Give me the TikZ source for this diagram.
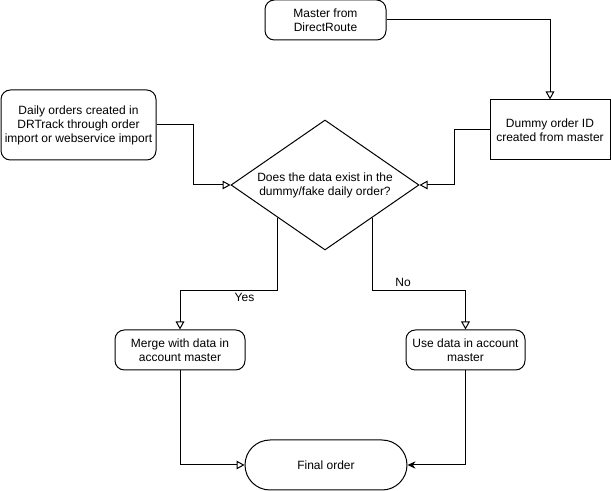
\documentclass[tikz,border=0pt]{standalone}
\usepackage{fontspec}
\setmainfont{Liberation Sans}
\usetikzlibrary{arrows.meta,shapes.geometric}

\begin{document}
\begin{tikzpicture}[
  x=0.75pt, y=-0.75pt,
  font=\fontsize{9}{10.5}\selectfont,
  line width=0.75pt,
  >={Triangle[open, length=6pt, width=6.5pt, fill=white]},
  box/.style={draw, rounded corners=7pt, align=center, inner sep=0pt},
  plainbox/.style={draw, align=center, inner sep=0pt},
  decision/.style={draw, diamond, aspect=1.45, align=center, inner sep=0pt},
  terminal/.style={draw, rounded corners=18.75pt, align=center, inner sep=0pt},
  flow/.style={->},
  lbl/.style={inner sep=2pt}
]
  \useasboundingbox (0,0) rectangle (611,491);

  \node[box, minimum width=90.75pt, minimum height=30pt] (master) at (325.5,20) {Master from\\DirectRoute};
  \node[plainbox, minimum width=90pt, minimum height=45pt] (dummy) at (550,130) {Dummy order ID\\created from master};
  \node[box, minimum width=116.25pt, minimum height=52.5pt] (daily) at (78.5,125) {Daily orders created in\\DRTrack through order\\import or webservice import};
  \node[decision, minimum width=141pt, minimum height=97.5pt] (dec) at (325,185) {Does the data exist in the\\dummy/fake daily order?};
  \node[box, minimum width=97.5pt, minimum height=30pt] (merge) at (180,350) {Merge with data in\\account master};
  \node[box, minimum width=89.25pt, minimum height=30pt] (use) at (465.5,350) {Use data in account\\master};
  \node[terminal, minimum width=121.5pt, minimum height=37.5pt] (final) at (326,465) {Final order};

  \draw[flow] (master.east) -| (dummy.north);
  \draw[flow] (daily.east) -- ++(37,0) |- (dec.west);
  \draw[flow] (dummy.west) -- ++(-35,0) |- (dec.east);
  \draw[flow] (dec.south west) -- ++(0,72.5) -| node[lbl, below, pos=0.17] (yes) {Yes} (merge.north);
  \draw[flow] (dec.south east) -- ++(0,72.5) -| node[lbl, above, pos=0.165] (no) {No} (use.north);
  \draw[flow] (merge.south) |- (final.west);
  \draw[-{Stealth[length=6pt, width=5.5pt]}] (use.south) |- (final.east);
\end{tikzpicture}
\end{document}
